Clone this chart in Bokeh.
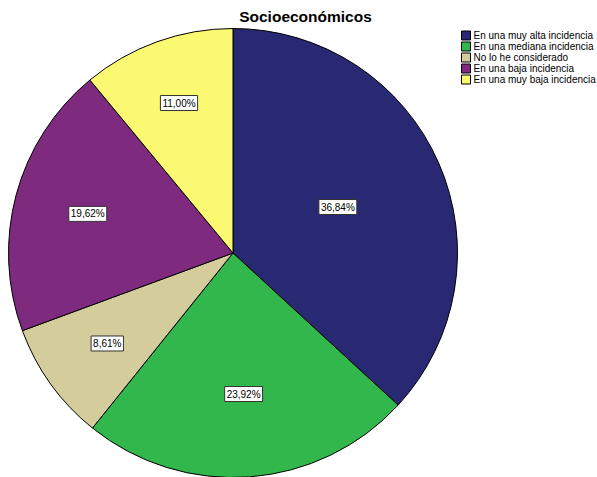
import numpy as np
from bokeh.plotting import figure
from bokeh.models import ColumnDataSource, Range1d, Label
from bokeh.core.properties import value
from bokeh.embed import file_html
from bokeh.resources import INLINE

# Response categories and their shares (%)
categories = [
    "En una muy alta incidencia",
    "En una mediana incidencia",
    "No lo he considerado",
    "En una baja incidencia",
    "En una muy baja incidencia",
]
percentages = [36.84, 23.92, 8.61, 19.62, 11.00]
colors = ["#292872", "#31B74B", "#D4CC9B", "#7E2A7E", "#FBF872"]

# Radial placement of each percentage box, as a fraction of the radius
label_radius_frac = [0.51, 0.63, 0.69, 0.67, 0.71]

W, H = 597, 477
cx, cy, R = 232.5, H - 252.5, 224.5

pct = np.array(percentages)
frac = pct / pct.sum()
cum = np.concatenate([[0], np.cumsum(frac)])
# clockwise from 12 o'clock
start = np.pi / 2 - cum[1:] * 2 * np.pi
end = np.pi / 2 - cum[:-1] * 2 * np.pi
mid = (start + end) / 2
lr = np.array(label_radius_frac) * R

src = ColumnDataSource(dict(
    start=start, end=end, color=colors, cat=categories,
    lx=cx + lr * np.cos(mid), ly=cy + lr * np.sin(mid),
    txt=[f"{v:.2f}%".replace(".", ",") for v in percentages],
))

p = figure(width=W, height=H, output_backend="svg", toolbar_location=None,
           x_range=Range1d(0, W), y_range=Range1d(0, H), min_border=0)
p.axis.visible = False
p.grid.visible = False
p.outline_line_color = None
p.background_fill_color = "white"
p.border_fill_color = "white"

p.wedge(x=cx, y=cy, radius=R, start_angle="start", end_angle="end",
        fill_color="color", line_color="black", line_width=1, source=src)

# Percentage boxes
p.text(x="lx", y="ly", text="txt", source=src,
       text_align="center", text_baseline="middle",
       text_font=value("Liberation Sans"), text_font_size="10px",
       text_color="black", padding=2,
       background_fill_color="white", background_fill_alpha=1,
       border_line_color="#333333", border_line_width=1)

# Title
p.add_layout(Label(x=305, y=H - 16, text="Socioeconómicos", text_align="center",
                   text_baseline="middle", text_font="Liberation Sans",
                   text_font_style="bold", text_font_size="15.5px",
                   text_color="black"))

# Legend
n = len(categories)
ys = H - (35 + 11 * np.arange(n))
leg = ColumnDataSource(dict(x=[465.5] * n, y=ys, color=colors, cat=categories,
                            tx=[473] * n))
p.rect(x="x", y="y", width=9, height=9, fill_color="color",
       line_color="black", line_width=1, source=leg)
p.text(x="tx", y="y", text="cat", text_baseline="middle", text_align="left",
       text_font_size="10px", text_color="black", source=leg,
       text_font=value("Liberation Sans"))

open("out.html", "w").write(file_html(p, INLINE))
